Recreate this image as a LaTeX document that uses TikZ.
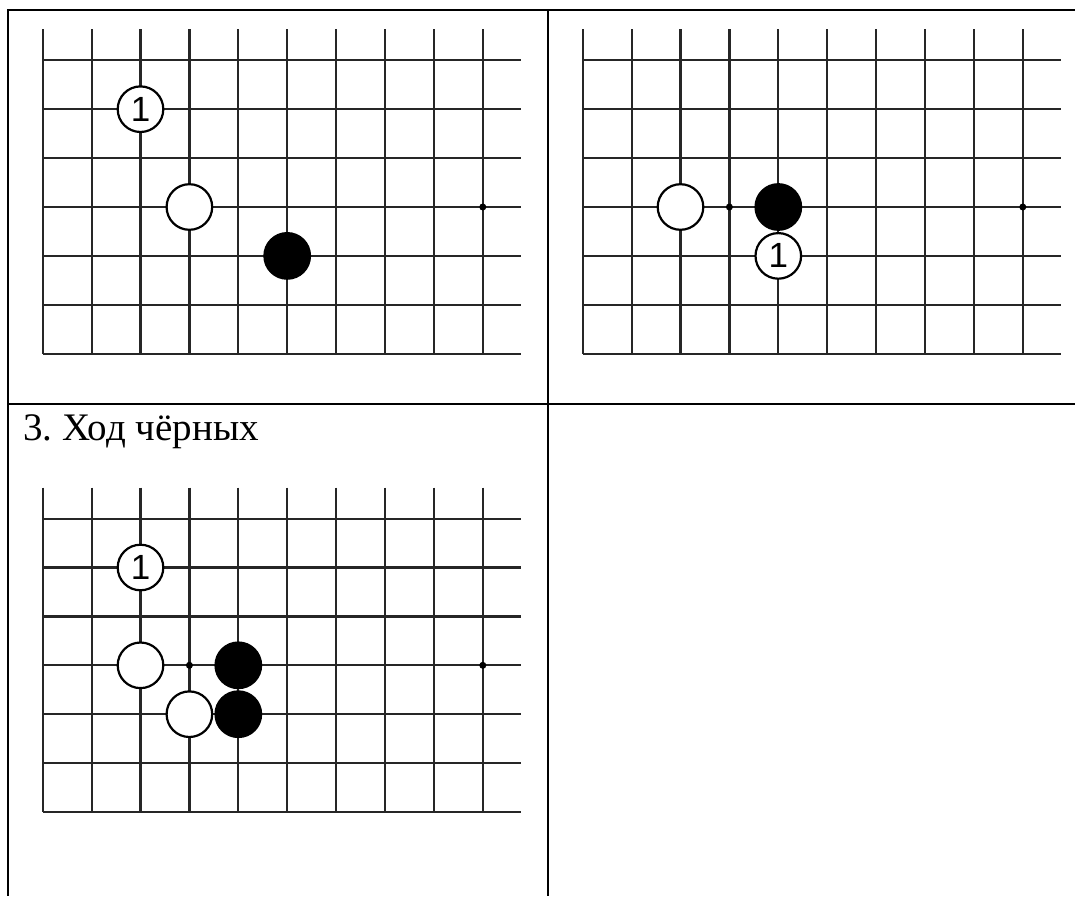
\documentclass[tikz,border=0pt]{standalone}
\usepackage{fontspec}
\setmainfont{Liberation Serif}
\newfontfamily\stonefont{Liberation Sans}
\newcommand\drawgoboard{%
  \foreach \c in {0,...,9} \draw[gridline] (\c,-0.634) -- (\c,6);
  \foreach \r in {0,...,6} \draw[gridline] (0,\r) -- (9.777,\r);
}
\begin{document}
\frenchspacing
\begin{tikzpicture}[x=1pt,y=1pt,
  gridline/.style={line width=2.2pt, draw=black!85},
  tableline/.style={line width=2.8pt, draw=black},
  whitestone/.style={circle, draw=black, fill=white, line width=2.2pt, minimum size=45.6pt, inner sep=0pt, font=\stonefont\fontsize{35}{35}\selectfont},
  blackstone/.style={circle, draw=black, fill=black, line width=2.2pt, minimum size=45.6pt, inner sep=0pt},
  hoshi/.style={circle, fill=black, minimum size=7pt, inner sep=0pt},
  board/.style={x=48.9pt, y=-48.9pt}]
\useasboundingbox (0,0) rectangle (1075,-896);
% table
\coordinate (tl) at (8,-10);
\coordinate (tr) at (1075,-10);
\coordinate (bl) at (8,-896);
\coordinate (mt) at (548,-10);
\coordinate (mb) at (548,-896);
\coordinate (ml) at (8,-404);
\coordinate (mr) at (1075,-404);
\draw[tableline] (tr) -- (tl) -- (bl);
\draw[tableline] (mt) -- (mb);
\draw[tableline] (ml) -- (mr);
% board 1
\begin{scope}[shift={(42.7,-60.3)}, board]
  \drawgoboard
  \node[hoshi] (a-h1) at (9,3) {};
  \node[whitestone] (a-w1) at (2,1) {1};
  \node[whitestone] (a-w2) at (3,3) {};
  \node[blackstone] (a-b1) at (5,4) {};
\end{scope}
% board 2
\begin{scope}[shift={(582.7,-60.3)}, board]
  \drawgoboard
  \node[hoshi] (b-h1) at (9,3) {};
  \node[hoshi] (b-h2) at (3,3) {};
  \node[whitestone] (b-w2) at (2,3) {};
  \node[blackstone] (b-b1) at (4,3) {};
  \node[whitestone] (b-w1) at (4,4) {1};
\end{scope}
% cell 3 title
\node[anchor=base west, inner sep=0pt, font=\fontsize{39}{41}\selectfont] (title) at (23,-440) {3. Ход чёрных};
% board 3
\begin{scope}[shift={(42.7,-518.6)}, board]
  \drawgoboard
  \node[hoshi] (c-h1) at (9,3) {};
  \node[hoshi] (c-h2) at (3,3) {};
  \node[whitestone] (c-w1) at (2,1) {1};
  \node[whitestone] (c-w2) at (2,3) {};
  \node[blackstone] (c-b1) at (4,3) {};
  \node[whitestone] (c-w3) at (3,4) {};
  \node[blackstone] (c-b2) at (4,4) {};
\end{scope}
\end{tikzpicture}
\end{document}
